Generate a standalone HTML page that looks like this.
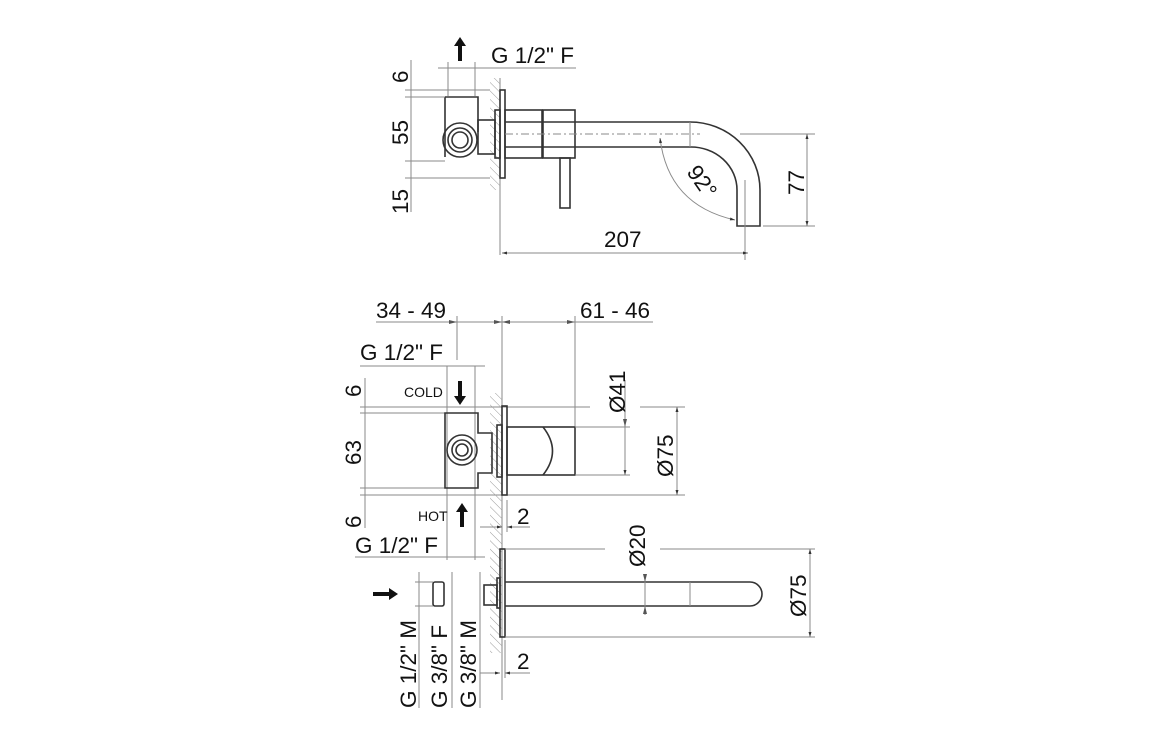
<!DOCTYPE html>
<html><head><meta charset="utf-8"><style>
html,body{margin:0;padding:0;background:#fff}
svg{display:block}
text{font-family:"Liberation Sans",Arial,sans-serif;fill:#111}
.g{stroke:#8a8a8a;stroke-width:1;fill:none}
.d{stroke:#333;stroke-width:1.6;fill:none}
.t{font-size:22.5px}
.s{font-size:14px}
</style></head><body>
<svg width="1156" height="742" viewBox="0 0 1156 742" xmlns="http://www.w3.org/2000/svg">
<defs>
<pattern id="h" width="6" height="6" patternUnits="userSpaceOnUse" patternTransform="rotate(-45)">
<line x1="0" y1="0" x2="0" y2="6" stroke="#999" stroke-width="1"/>
</pattern>
<marker id="a" viewBox="0 0 10 10" refX="10" refY="5" markerWidth="7" markerHeight="5" orient="auto-start-reverse"><path d="M0,2 L10,5 L0,8z" fill="#333"/></marker>
</defs>

<!-- ===== TOP VIEW ===== -->
<path d="M460,37 l-6,9 h4 v15 h4 v-15 h4z" fill="#111"/>
<text class="t" x="491" y="63">G 1/2" F</text>
<line class="g" x1="438" y1="68" x2="576" y2="68"/>
<line class="g" x1="448" y1="62" x2="448" y2="96"/>
<line class="g" x1="475" y1="62" x2="475" y2="96"/>
<rect x="490" y="78" width="10" height="112" fill="url(#h)"/>
<line class="g" x1="500" y1="78" x2="500" y2="255"/>
<rect class="d" x="500" y="90" width="5" height="88"/>
<rect class="d" x="495" y="110" width="5" height="48"/>
<path class="d" d="M445,97 h33 v35 M445,97 v60"/>
<rect class="d" x="478" y="120" width="17" height="34"/>
<circle class="d" cx="460" cy="140" r="17"/>
<circle class="d" cx="460" cy="140" r="12"/>
<circle class="d" cx="460" cy="140" r="8"/>
<line class="g" x1="411" y1="60" x2="411" y2="212"/>
<line class="g" x1="405" y1="90" x2="490" y2="90"/>
<line class="g" x1="405" y1="97" x2="445" y2="97"/>
<line class="g" x1="405" y1="161" x2="445" y2="161"/>
<line class="g" x1="405" y1="178" x2="490" y2="178"/>
<text class="t" transform="translate(408,83) rotate(-90)">6</text>
<text class="t" transform="translate(408,145) rotate(-90)">55</text>
<text class="t" transform="translate(408,214) rotate(-90)">15</text>
<rect class="d" x="505" y="110" width="37" height="48"/>
<rect class="d" x="543" y="110" width="32" height="48"/>
<rect class="d" x="560" y="158" width="10" height="50"/>
<path class="d" d="M505,122 H690 A70,68 0 0 1 760,190 V226 H737 V190 A46,43 0 0 0 690,147 H505"/>
<line class="g" x1="505" y1="134" x2="700" y2="134" stroke-dasharray="8,3,2,3"/>
<line class="g" x1="690" y1="122" x2="690" y2="147"/>
<line class="g" x1="745" y1="180" x2="745" y2="260"/>
<path class="g" d="M660,138 Q668,205 735,220" marker-start="url(#a)" marker-end="url(#a)"/>
<text class="t" transform="translate(686,172) rotate(55)">92°</text>
<line class="g" x1="740" y1="134" x2="815" y2="134"/>
<line class="g" x1="763" y1="226" x2="815" y2="226"/>
<line class="g" x1="807" y1="134" x2="807" y2="226" marker-start="url(#a)" marker-end="url(#a)"/>
<text class="t" transform="translate(804,195) rotate(-90)">77</text>
<line class="g" x1="502" y1="253" x2="748" y2="253" marker-start="url(#a)" marker-end="url(#a)"/>
<text class="t" x="604" y="247">207</text>

<!-- ===== MIDDLE VIEW ===== -->
<text class="t" x="376" y="318">34 - 49</text>
<text class="t" x="580" y="318">61 - 46</text>
<line class="g" x1="376" y1="322" x2="653" y2="322"/>
<path d="M457,322 l-8,-2 v4z M502,322 l8,-2 v4z M502,322 l-8,-2 v4z M575,322 l-8,-2 v4z" fill="#555"/>
<line class="g" x1="457" y1="316" x2="457" y2="360"/>
<line class="g" x1="502" y1="316" x2="502" y2="700"/>
<line class="g" x1="575" y1="316" x2="575" y2="426"/>
<text class="t" x="360" y="360">G 1/2" F</text>
<line class="g" x1="360" y1="366" x2="485" y2="366"/>
<line class="g" x1="447" y1="366" x2="447" y2="560"/>
<line class="g" x1="475" y1="366" x2="475" y2="560"/>
<text class="s" x="404" y="397">COLD</text>
<path d="M460,405 l-6,-9 h4 v-15 h4 v15 h4z" fill="#111"/>
<text class="s" x="418" y="521">HOT</text>
<path d="M462,503 l-6,9 h4 v15 h4 v-15 h4z" fill="#111"/>
<line class="g" x1="365" y1="378" x2="365" y2="528"/>
<line class="g" x1="360" y1="407" x2="590" y2="407"/>
<line class="g" x1="640" y1="407" x2="685" y2="407"/>
<line class="g" x1="360" y1="413" x2="445" y2="413"/>
<line class="g" x1="360" y1="488" x2="445" y2="488"/>
<line class="g" x1="360" y1="495" x2="685" y2="495"/>
<text class="t" transform="translate(361,397) rotate(-90)">6</text>
<text class="t" transform="translate(361,465) rotate(-90)">63</text>
<text class="t" transform="translate(361,528) rotate(-90)">6</text>
<rect x="490" y="393" width="12" height="260" fill="url(#h)"/>
<rect class="d" x="502" y="406" width="5" height="89"/>
<rect class="d" x="497" y="425" width="5" height="52"/>
<path class="d" d="M445,413 h33 v20 h14 v40 h-14 v15 h-33 z"/>
<circle class="d" cx="462" cy="450" r="15"/>
<circle class="d" cx="462" cy="450" r="10"/>
<circle class="d" cx="462" cy="450" r="6"/>
<rect class="d" x="507" y="427" width="68" height="48"/>
<path class="d" d="M543,427 Q562,451 543,475"/>
<line class="g" x1="575" y1="427" x2="630" y2="427"/>
<line class="g" x1="575" y1="475" x2="630" y2="475"/>
<line class="g" x1="625" y1="380" x2="625" y2="475" marker-end="url(#a)"/>
<path d="M625,427 l-2,-8 h4z" fill="#555"/>
<text class="t" transform="translate(625,413) rotate(-90)">Ø41</text>
<line class="g" x1="677" y1="407" x2="677" y2="495" marker-start="url(#a)" marker-end="url(#a)"/>
<text class="t" transform="translate(673,477) rotate(-90)">Ø75</text>
<line class="g" x1="507" y1="500" x2="507" y2="532"/>
<line class="g" x1="480" y1="527" x2="502" y2="527" marker-end="url(#a)"/>
<line class="g" x1="530" y1="527" x2="507" y2="527" marker-end="url(#a)"/>
<text class="t" x="517" y="524">2</text>

<!-- ===== BOTTOM VIEW ===== -->
<text class="t" x="355" y="553">G 1/2" F</text>
<line class="g" x1="355" y1="557" x2="485" y2="557"/>
<rect class="d" x="500" y="549" width="5" height="88"/>
<rect class="d" x="497" y="578" width="3" height="30"/>
<rect class="d" x="484" y="585" width="13" height="20"/>
<path class="d" d="M505,582 H750 A12,12 0 0 1 750,606 H505"/>
<line class="g" x1="690" y1="582" x2="690" y2="606"/>
<rect class="d" x="433" y="582" width="11" height="24" rx="2"/>
<path d="M398,594 l-9,-6 v4 h-16 v4 h16 v4z" fill="#111"/>
<line class="g" x1="419" y1="572" x2="419" y2="708"/>
<line class="g" x1="452" y1="572" x2="452" y2="708"/>
<line class="g" x1="480" y1="572" x2="480" y2="708"/>
<line class="g" x1="415" y1="582" x2="433" y2="582"/>
<line class="g" x1="415" y1="606" x2="433" y2="606"/>
<text class="t" transform="translate(416,708) rotate(-90)">G 1/2" M</text>
<text class="t" transform="translate(447,708) rotate(-90)">G 3/8" F</text>
<text class="t" transform="translate(476,708) rotate(-90)">G 3/8" M</text>
<line class="g" x1="645" y1="575" x2="645" y2="615"/>
<path d="M645,582 l-2,-8 h4z M645,606 l-2,8 h4z" fill="#555"/>
<text class="t" transform="translate(645,567) rotate(-90)">Ø20</text>
<line class="g" x1="505" y1="549" x2="605" y2="549"/>
<line class="g" x1="660" y1="549" x2="815" y2="549"/>
<line class="g" x1="505" y1="637" x2="815" y2="637"/>
<line class="g" x1="810" y1="549" x2="810" y2="637" marker-start="url(#a)" marker-end="url(#a)"/>
<text class="t" transform="translate(806,617) rotate(-90)">Ø75</text>
<line class="g" x1="505" y1="640" x2="505" y2="678"/>
<line class="g" x1="480" y1="673" x2="500" y2="673" marker-end="url(#a)"/>
<line class="g" x1="530" y1="673" x2="505" y2="673" marker-end="url(#a)"/>
<text class="t" x="517" y="669">2</text>
</svg>
</body></html>
